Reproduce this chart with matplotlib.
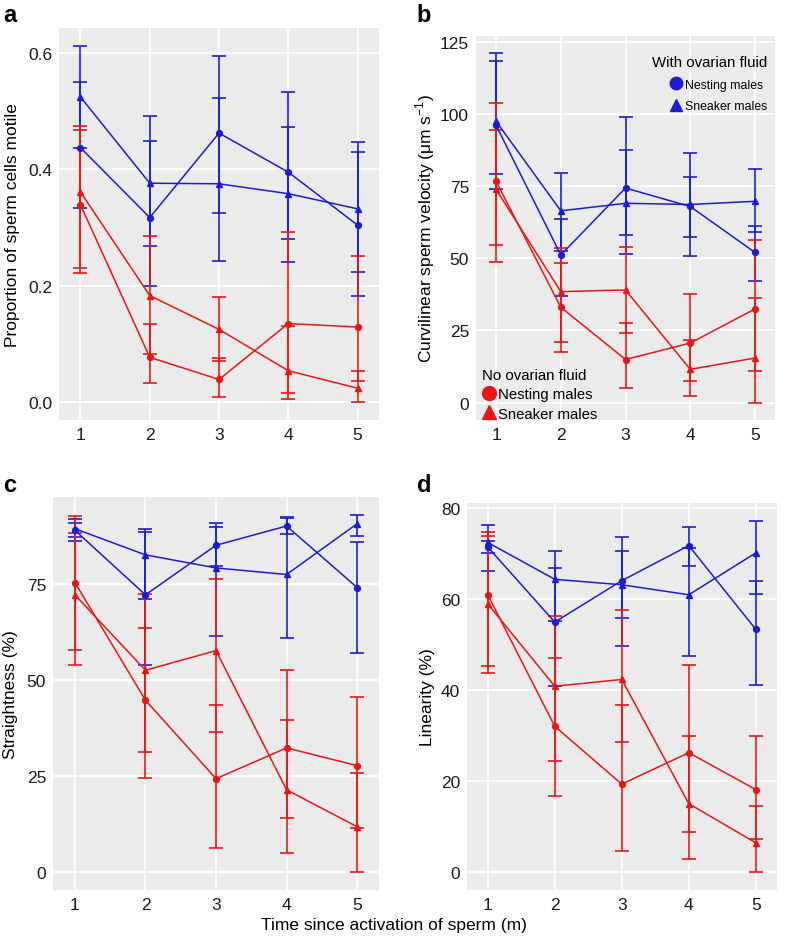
import numpy as np
import matplotlib
matplotlib.use("Agg")
import matplotlib.pyplot as plt
from matplotlib.lines import Line2D

plt.rcParams['font.family'] = ['Liberation Sans', 'DejaVu Sans']
plt.rcParams['mathtext.fontset'] = 'custom'
plt.rcParams['mathtext.rm'] = 'Liberation Sans'

# time since activation (min)
x = [1, 2, 3, 4, 5]

# a: proportion of sperm cells motile
a_of_nest = [0.437, 0.317, 0.462, 0.395, 0.304]
a_of_nest_lo = [0.334, 0.200, 0.324, 0.280, 0.182]
a_of_nest_hi = [0.549, 0.449, 0.595, 0.533, 0.430]
a_of_sneak = [0.524, 0.376, 0.375, 0.358, 0.332]
a_of_sneak_lo = [0.436, 0.268, 0.243, 0.240, 0.223]
a_of_sneak_hi = [0.612, 0.492, 0.523, 0.472, 0.447]
a_no_nest = [0.339, 0.077, 0.039, 0.135, 0.129]
a_no_nest_lo = [0.222, 0.033, 0.009, 0.005, 0.037]
a_no_nest_hi = [0.468, 0.134, 0.076, 0.292, 0.251]
a_no_sneak = [0.361, 0.183, 0.125, 0.054, 0.024]
a_no_sneak_lo = [0.231, 0.083, 0.071, 0.016, 0.0]
a_no_sneak_hi = [0.475, 0.285, 0.181, 0.131, 0.053]

# b: curvilinear velocity
b_of_nest = [96.0, 51.1, 74.3, 67.9, 52.0]
b_of_nest_lo = [79.3, 36.9, 51.6, 57.3, 42.0]
b_of_nest_hi = [118.3, 63.4, 98.8, 78.2, 61.2]
b_of_sneak = [97.4, 66.4, 69.0, 68.6, 69.7]
b_of_sneak_lo = [73.8, 52.4, 57.9, 50.9, 59.0]
b_of_sneak_hi = [120.9, 79.6, 87.3, 86.3, 80.9]
b_no_nest = [76.6, 33.0, 14.9, 20.6, 32.4]
b_no_nest_lo = [48.8, 17.6, 5.0, 7.3, 11.0]
b_no_nest_hi = [103.7, 48.5, 27.4, 37.6, 56.3]
b_no_sneak = [73.8, 38.4, 39.0, 11.5, 15.4]
b_no_sneak_lo = [54.4, 21.0, 24.1, 2.3, 0.0]
b_no_sneak_hi = [94.5, 53.5, 53.8, 21.7, 36.1]

# c: straightness
c_of_nest = [88.9, 72.1, 85.0, 90.0, 74.0]
c_of_nest_lo = [86.0, 53.9, 79.5, 88.0, 57.1]
c_of_nest_hi = [91.9, 88.4, 89.8, 92.0, 85.9]
c_of_sneak = [89.3, 82.5, 79.1, 77.4, 90.6]
c_of_sneak_lo = [87.2, 70.9, 61.3, 61.0, 87.3]
c_of_sneak_hi = [90.9, 89.1, 90.9, 92.3, 92.9]
c_no_nest = [75.3, 44.7, 24.3, 32.3, 27.7]
c_no_nest_lo = [57.7, 24.5, 6.3, 14.0, 11.5]
c_no_nest_hi = [92.6, 63.6, 43.5, 52.6, 45.6]
c_no_sneak = [72.1, 52.5, 57.6, 21.4, 11.8]
c_no_sneak_lo = [53.8, 31.3, 36.4, 4.9, 0.0]
c_no_sneak_hi = [88.3, 72.2, 76.1, 39.5, 25.9]

# d: linearity
d_of_nest = [71.5, 55.0, 64.1, 71.8, 53.4]
d_of_nest_lo = [70.2, 40.9, 56.0, 67.3, 41.2]
d_of_nest_hi = [72.9, 66.8, 70.6, 76.0, 64.1]
d_of_sneak = [72.5, 64.4, 63.2, 61.0, 70.2]
d_of_sneak_lo = [66.2, 55.3, 49.7, 47.6, 61.2]
d_of_sneak_hi = [76.3, 70.6, 73.7, 71.2, 77.3]
d_no_nest = [61.0, 32.1, 19.4, 26.3, 18.2]
d_no_nest_lo = [45.3, 16.8, 4.7, 8.9, 7.3]
d_no_nest_hi = [74.9, 47.1, 36.8, 45.5, 30.0]
d_no_sneak = [59.0, 40.9, 42.4, 15.1, 6.5]
d_no_sneak_lo = [43.9, 24.5, 28.6, 2.9, 0.0]
d_no_sneak_hi = [74.0, 56.3, 57.7, 30.0, 14.7]

BLUE = '#1c1cd8'
RED = '#ec1515'
BG = '#ebebeb'


def draw_series(ax, y, lo, hi, color, marker):
    y = np.asarray(y)
    err = [y - np.asarray(lo), np.asarray(hi) - y]
    ax.errorbar(x, y, yerr=err, color=color, marker=marker, ms=4.2,
                lw=1.1, elinewidth=1.2, capsize=5, capthick=1.2)


def panel(rect, label, lab_xy, ylabel, groups, yticks, fmt, labelpad=6):
    ax = fig.add_axes(rect)
    ax.set_facecolor(BG)
    for s in ax.spines.values():
        s.set_visible(False)
    for y, lo, hi, color, marker in groups:
        draw_series(ax, y, lo, hi, color, marker)
    # ggplot-like expansion of the data range
    lows = [min(g[1]) for g in groups]
    highs = [max(g[2]) for g in groups]
    ymin, ymax = min(lows), max(highs)
    pad = 0.05 * (ymax - ymin)
    ax.set_ylim(ymin - pad, ymax + pad)
    ax.set_xlim(0.9 - 0.21, 5.1 + 0.21)
    ax.set_xticks(x)
    ax.set_yticks(yticks)
    ax.set_yticklabels([fmt.format(t) for t in yticks])
    ax.grid(True, color='white', lw=1.1)
    ax.set_axisbelow(True)
    ax.tick_params(length=0, labelsize=12.5, pad=5, colors='#1a1a1a')
    ax.set_ylabel(ylabel, fontsize=12.5, labelpad=labelpad)
    fig.text(lab_xy[0], lab_xy[1], label, fontsize=17, fontweight='bold',
             ha='left', va='baseline')
    return ax


fig = plt.figure(figsize=(7.88, 9.37), dpi=100)

ax_a = panel([0.0749, 0.5507, 0.4061, 0.4184], 'a', (0.004, 0.9765),
             'Proportion of sperm cells motile',
             [(a_of_nest, a_of_nest_lo, a_of_nest_hi, BLUE, 'o'),
              (a_of_sneak, a_of_sneak_lo, a_of_sneak_hi, BLUE, '^'),
              (a_no_nest, a_no_nest_lo, a_no_nest_hi, RED, 'o'),
              (a_no_sneak, a_no_sneak_lo, a_no_sneak_hi, RED, '^')],
             [0.0, 0.2, 0.4, 0.6], '{:.1f}')

ax_b = panel([0.6041, 0.5507, 0.3794, 0.4098], 'b', (0.529, 0.9765),
             r'Curvilinear sperm velocity (μm s$^{-1}$)',
             [(b_of_nest, b_of_nest_lo, b_of_nest_hi, BLUE, 'o'),
              (b_of_sneak, b_of_sneak_lo, b_of_sneak_hi, BLUE, '^'),
              (b_no_nest, b_no_nest_lo, b_no_nest_hi, RED, 'o'),
              (b_no_sneak, b_no_sneak_lo, b_no_sneak_hi, RED, '^')],
             [0, 25, 50, 75, 100, 125], '{:d}', labelpad=2)

ax_c = panel([0.0673, 0.0491, 0.4137, 0.4194], 'c', (0.004, 0.475),
             'Straightness (%)',
             [(c_of_nest, c_of_nest_lo, c_of_nest_hi, BLUE, 'o'),
              (c_of_sneak, c_of_sneak_lo, c_of_sneak_hi, BLUE, '^'),
              (c_no_nest, c_no_nest_lo, c_no_nest_hi, RED, 'o'),
              (c_no_sneak, c_no_sneak_lo, c_no_sneak_hi, RED, '^')],
             [0, 25, 50, 75], '{:d}')

ax_d = panel([0.5926, 0.0491, 0.3929, 0.4130], 'd', (0.529, 0.475),
             'Linearity (%)',
             [(d_of_nest, d_of_nest_lo, d_of_nest_hi, BLUE, 'o'),
              (d_of_sneak, d_of_sneak_lo, d_of_sneak_hi, BLUE, '^'),
              (d_no_nest, d_no_nest_lo, d_no_nest_hi, RED, 'o'),
              (d_no_sneak, d_no_sneak_lo, d_no_sneak_hi, RED, '^')],
             [0, 20, 40, 60, 80], '{:d}', labelpad=4)

# legends in panel b
h_blue = [Line2D([], [], ls='none', marker='o', ms=9, color=BLUE),
          Line2D([], [], ls='none', marker='^', ms=9, color=BLUE)]
h_red = [Line2D([], [], ls='none', marker='o', ms=10, color=RED),
         Line2D([], [], ls='none', marker='^', ms=10, color=RED)]
leg1 = ax_b.legend(h_blue, ['Nesting males', 'Sneaker males'],
                   title='With ovarian fluid', loc='upper right',
                   bbox_to_anchor=(1.0, 0.97), frameon=False, fontsize=8.8,
                   title_fontsize=10.8, alignment='right', handlelength=1.0,
                   handletextpad=0.3, labelspacing=0.8, borderaxespad=0.2)
ax_b.add_artist(leg1)
ax_b.legend(h_red, ['Nesting males', 'Sneaker males'],
            title='No ovarian fluid', loc='lower left',
            bbox_to_anchor=(-0.01, -0.025), frameon=False, fontsize=10.7,
            title_fontsize=10.8, alignment='left', handlelength=1.0,
            handletextpad=0.05, labelspacing=0.35, borderaxespad=0.2)

fig.text(0.5, 0.0075, 'Time since activation of sperm (m)', fontsize=12.5,
         ha='center', va='baseline')

fig.savefig('out.png', dpi=100)
